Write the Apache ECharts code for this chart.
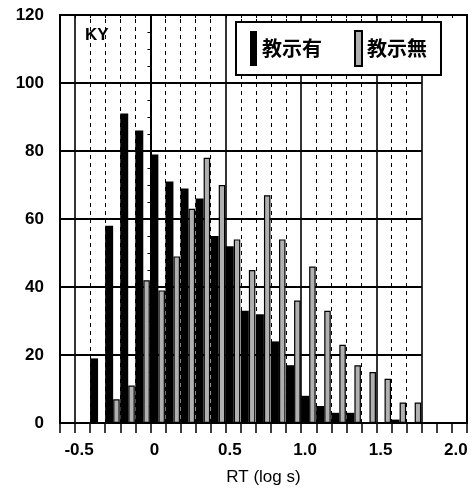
<!DOCTYPE html>
<html>
<head>
<meta charset="utf-8">
<script src="https://cdn.jsdelivr.net/npm/echarts@6/dist/echarts.min.js"></script>
<style>
html,body{margin:0;padding:0;background:#fff;}
#chart{width:476px;height:496px;}
</style>
</head>
<body>
<div id="chart"></div>
<script>
// bin starts (log s), bin width 0.1
var binStarts = [-0.4,-0.3,-0.2,-0.1,0.0,0.1,0.2,0.3,0.4,0.5,0.6,0.7,0.8,0.9,1.0,1.1,1.2,1.3,1.4,1.5,1.6,1.7];
var withInstr = [19,58,91,86,79,71,69,66,55,52,33,32,24,17,8,5,3,3,0,0,1,0];     // 教示有
var withoutInstr = [0,7,11,42,39,49,63,78,70,54,45,67,54,36,46,33,23,17,15,13,6,6]; // 教示無
var seriesNames = ['教示有','教示無'];
var yTicks = [0,20,40,60,80,100,120];
var xLabelTicks = [-0.5,0,0.5,1.0,1.5,2.0];
var solidV = [-0.5,0,0.5,1.0,1.5,1.8];
var dashedV = [-0.4,-0.3,-0.2,-0.1,0.1,0.2,0.3,0.4,0.6,0.7,0.8,0.9,1.1,1.2,1.3,1.4,1.6,1.7];
var hGrid = [20,40,60,80,100];
var panelLabel = 'KY';
var xTitle = 'RT (log s)';

var X_MIN = -0.6, X_MAX = 2.1, GRID_END = 1.8;
var font = 'Liberation Sans, Arial, Helvetica, sans-serif';

var blackData = binStarts.map(function(b,i){ return [b + 0.026, withInstr[i]]; });
var grayData = binStarts.map(function(b,i){ return [b + 0.0745, withoutInstr[i]]; });

var mlData = [];
solidV.forEach(function(v){
  mlData.push({xAxis: v, lineStyle:{color:'#000', width:1.6, type:'solid'}});
});
dashedV.forEach(function(v){
  mlData.push({xAxis: v, lineStyle:{color:'#000', width:1, type:[4,4]}});
});
hGrid.forEach(function(v){
  mlData.push([{coord:[X_MIN, v], lineStyle:{color:'#000', width:1.8, type:'solid'}},{coord:[GRID_END, v]}]);
});

function isLabelTick(v){
  for (var i=0;i<xLabelTicks.length;i++){ if (Math.abs(v - xLabelTicks[i]) < 1e-6) return true; }
  return false;
}

var chart = echarts.init(document.getElementById('chart'), null, {renderer:'canvas'});
chart.setOption({
  animation:false,
  backgroundColor:'#fff',
  grid:{left:60, top:15, right:9, bottom:73, show:true, borderColor:'#000', borderWidth:2, backgroundColor:'transparent'},
  legend:{
    data:seriesNames, left:236, top:22, orient:'horizontal',
    itemWidth:7, itemHeight:35, itemGap:32, itemTextGap:10,
    padding:[8,14,8,14], borderColor:'#000', borderWidth:2, backgroundColor:'#fff',
    textStyle:{fontSize:20, fontWeight:'bold', color:'#000', fontFamily:'Noto Sans CJK JP'},
    icon:'rect'
  },
  xAxis:[{
    type:'value', min:X_MIN, max:X_MAX, interval:0.1, position:'bottom',
    axisLine:{show:true, lineStyle:{color:'#000', width:2}},
    axisTick:{show:true, length:10, inside:false, lineStyle:{color:'#000', width:1.5}},
    axisLabel:{show:true, margin:19, color:'#000', fontSize:17, fontWeight:'bold', fontFamily:font, padding:[0,0,0,8],
      showMinLabel:true, showMaxLabel:true,
      formatter:function(v){ if(!isLabelTick(v)) return ''; return Math.abs(v)<1e-9 ? '0' : v.toFixed(1); }},
    splitLine:{show:false},
    name:xTitle, nameLocation:'middle', nameGap:46,
    nameTextStyle:{fontSize:17, color:'#000', fontFamily:font}
  },{
    type:'value', min:X_MIN, max:X_MAX, interval:0.1, position:'top',
    axisLine:{show:true, lineStyle:{color:'#000', width:2}},
    axisTick:{show:true, length:3, inside:true, lineStyle:{color:'#000', width:1}},
    axisLabel:{show:false}, splitLine:{show:false}
  }],
  yAxis:{
    type:'value', min:0, max:120, interval:20,
    axisLine:{show:true, lineStyle:{color:'#000', width:2}},
    axisTick:{show:true, length:10, lineStyle:{color:'#000', width:1.5}},
    minorTick:{show:true, splitNumber:4, length:3, lineStyle:{color:'#000', width:1}},
    axisLabel:{margin:16, color:'#000', fontSize:17, fontWeight:'bold', fontFamily:font},
    splitLine:{show:false}
  },
  graphic:[{
    type:'text', left:85, top:27,
    style:{text:panelLabel, font:'bold 17px ' + font, fill:'#000'}
  }],
  series:[{
    type:'line', data:[], silent:true, z:1,
    markLine:{silent:true, symbol:['none','none'], z:1, label:{show:false}, animation:false, data:mlData}
  },{
    name:seriesNames[0], type:'bar', xAxisIndex:0, data:blackData, barWidth:8, z:3,
    itemStyle:{color:'#000', borderWidth:0}
  },{
    name:seriesNames[1], type:'bar', xAxisIndex:1, data:grayData, barWidth:6.5, z:3,
    itemStyle:{color:'#b0b0b0', borderColor:'#000', borderWidth:1.2}
  }]
});
</script>
</body>
</html>
